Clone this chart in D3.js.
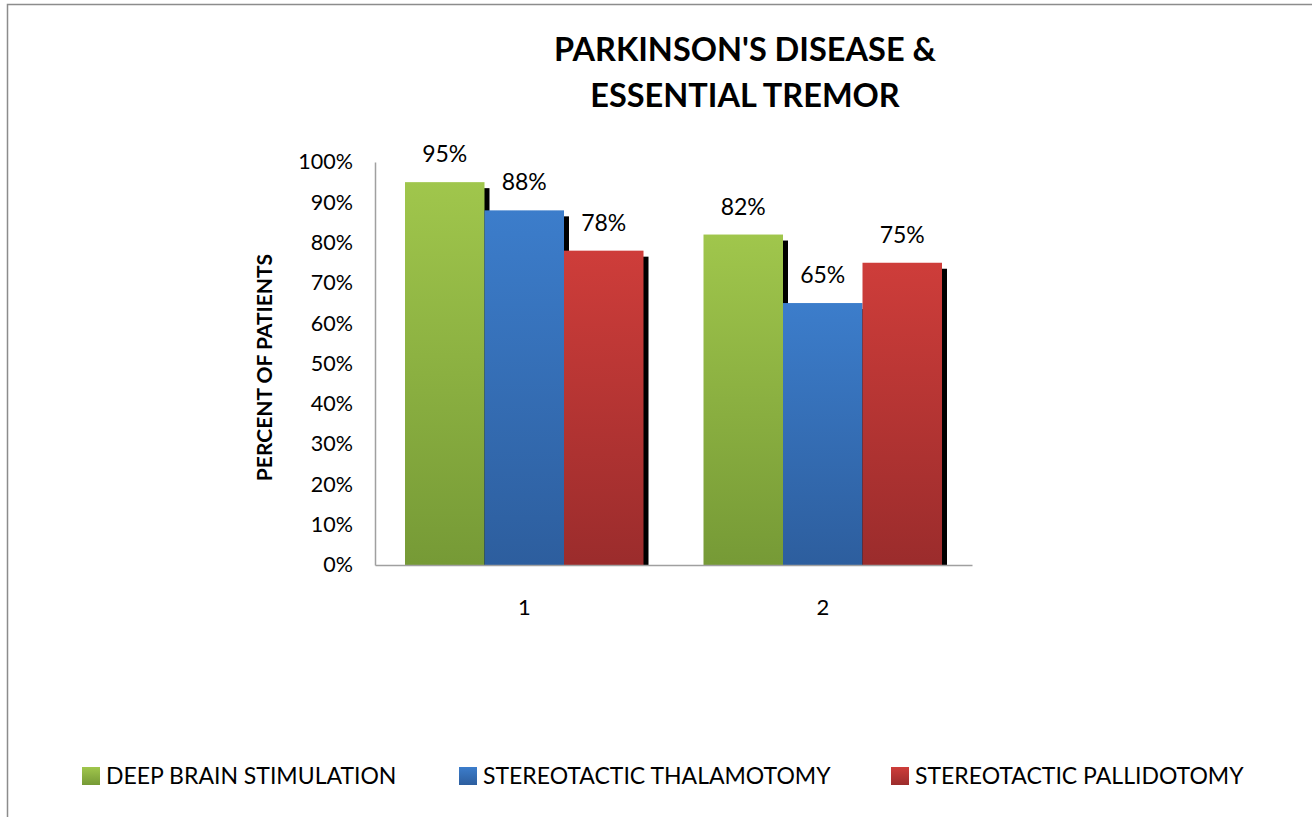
<!DOCTYPE html>
<html><head><meta charset="utf-8">
<script src="https://cdn.jsdelivr.net/npm/d3@7/dist/d3.min.js"></script>
<style>body{margin:0;background:#fff;} svg{display:block;} text{font-family:Lato,"Open Sans",sans-serif;}</style>
</head><body>
<svg id="c" width="1312" height="817"></svg>
<script>
const categories = ["1", "2"];
const seriesNames = ["DEEP BRAIN STIMULATION", "STEREOTACTIC THALAMOTOMY", "STEREOTACTIC PALLIDOTOMY"];
const deepBrain = [0.95, 0.82];
const thalamotomy = [0.88, 0.65];
const pallidotomy = [0.78, 0.75];
const yTicks = [0, 0.1, 0.2, 0.3, 0.4, 0.5, 0.6, 0.7, 0.8, 0.9, 1.0];
const titleLines = ["PARKINSON'S DISEASE &", "ESSENTIAL TREMOR"];
const yTitle = "PERCENT OF PATIENTS";

const seriesValues = [deepBrain, thalamotomy, pallidotomy];
const colors = [["#a0c64c", "#769a36"], ["#3c7dcb", "#2d5e9e"], ["#ce3d3a", "#9b2c2c"]];

const svg = d3.select("#c");
const defs = svg.append("defs");
colors.forEach((c, i) => {
  const g = defs.append("linearGradient").attr("id", "g" + i).attr("x1", 0).attr("y1", 0).attr("x2", 0).attr("y2", 1);
  g.append("stop").attr("offset", "0%").attr("stop-color", c[0]);
  g.append("stop").attr("offset", "100%").attr("stop-color", c[1]);
});

svg.append("rect").attr("x", 7.5).attr("y", 4.5).attr("width", 1330).attr("height", 840)
  .attr("fill", "none").attr("stroke", "#8c8c8c").attr("stroke-width", 1.5);

const L = 375, R = 972, T = 162, B = 565;
const y = d3.scaleLinear().domain([0, 1]).range([B, T]);
const x0 = d3.scaleBand().domain(categories).range([L, R]).paddingInner(0).paddingOuter(0);
const innerPad = 30;
const x1 = d3.scaleBand().domain(d3.range(seriesNames.length)).range([innerPad, x0.bandwidth() - innerPad]);
const FONT = "Lato,'Open Sans',sans-serif";

// title
svg.append("text").attr("x", 745).attr("text-anchor", "middle").attr("font-weight", "bold")
  .attr("font-size", 32.5).attr("fill", "#000")
  .selectAll("tspan").data(titleLines).join("tspan")
  .attr("x", 745).attr("y", (d, i) => 61 + i * 46).text(d => d);

// y title
svg.append("text").attr("transform", `translate(272,${(T + B) / 2 + 4}) rotate(-90)`)
  .attr("text-anchor", "middle").attr("font-weight", "bold").attr("font-size", 21).text(yTitle);

// y axis
const yAxis = d3.axisLeft(y).tickValues(yTicks).tickFormat(d3.format(".0%")).tickSize(0).tickPadding(22);
const ga = svg.append("g").attr("transform", `translate(${L},0)`).call(yAxis);
ga.select(".domain").attr("stroke", "#a0a0a0").attr("stroke-width", 1.5);
ga.selectAll("text").attr("font-size", 21.5).attr("fill", "#000").style("font-family", FONT);

// bars: shadows first
const groups = svg.append("g");
const flat = [];
categories.forEach((c, ci) => seriesValues.forEach((vals, si) => flat.push({c, si, v: vals[ci]})));
groups.selectAll("rect.sh").data(flat).join("rect").attr("class", "sh")
  .attr("x", d => x0(d.c) + x1(d.si) + 5).attr("y", d => y(d.v) + 6)
  .attr("width", x1.bandwidth()).attr("height", d => B - y(d.v) - 6).attr("fill", "#000");
groups.selectAll("rect.bar").data(flat).join("rect").attr("class", "bar")
  .attr("x", d => x0(d.c) + x1(d.si)).attr("y", d => y(d.v))
  .attr("width", x1.bandwidth()).attr("height", d => B - y(d.v)).attr("fill", d => `url(#g${d.si})`);
groups.selectAll("text.lbl").data(flat).join("text").attr("class", "lbl")
  .attr("x", d => x0(d.c) + x1(d.si) + x1.bandwidth() / 2).attr("y", d => y(d.v) - 20)
  .attr("text-anchor", "middle").attr("font-size", 23).text(d => d3.format(".0%")(d.v));

// x axis
const xAxis = d3.axisBottom(x0).tickSize(0).tickPadding(34);
const gx = svg.append("g").attr("transform", `translate(0,${B})`).call(xAxis);
gx.select(".domain").attr("stroke", "#a0a0a0").attr("stroke-width", 1.5);
gx.selectAll("text").attr("font-size", 22).attr("fill", "#000").style("font-family", FONT);

// legend
const legX = [82, 459, 891];
const lg = svg.append("g").selectAll("g").data(seriesNames).join("g")
  .attr("transform", (d, i) => `translate(${legX[i]},767)`);
lg.append("rect").attr("width", 18).attr("height", 18).attr("fill", (d, i) => `url(#g${i})`);
lg.append("text").attr("x", 24).attr("y", 17).attr("font-size", 23).text(d => d);
</script>
</body></html>
